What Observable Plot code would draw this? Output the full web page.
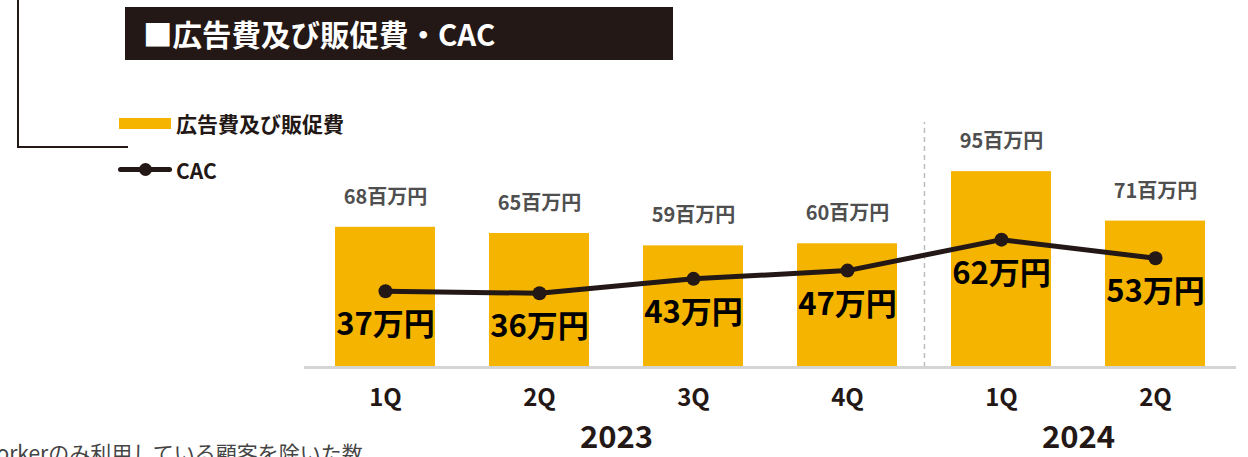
<!DOCTYPE html>
<html><head><meta charset="utf-8">
<script src="https://cdn.jsdelivr.net/npm/d3@7"></script>
<script src="https://cdn.jsdelivr.net/npm/@observablehq/plot@0.6"></script>
<style>
html,body{margin:0;padding:0;background:#fff;}
#wrap{position:relative;width:1248px;height:457px;overflow:hidden;font-family:"Noto Sans CJK JP","Noto Sans",sans-serif;}
#wrap svg{position:absolute;left:0;top:0;}
.ov{position:absolute;white-space:nowrap;}
</style></head>
<body><div id="wrap"></div>
<script>
const years = ["2023","2023","2023","2023","2024","2024"];
const quarters = ["1Q","2Q","3Q","4Q","1Q","2Q"];
const adCost = [68,65,59,60,95,71];      // 百万円
const cac = [37,36,43,47,62,53];         // 万円
const yearLabels = ["2023","2024"];
const yearAnchor = ["2023-2Q","2024-1Q"]; // label sits right of these bands

const keys = years.map((y,i)=>y+"-"+quarters[i]);
const data = keys.map((k,i)=>({key:k,q:quarters[i],ad:adCost[i],cac:cac[i]}));

const W=1248,H=457,mL=304,mR=12;
const pi=0.35,po=0.2;
const step=(W-mL-mR)/(keys.length-pi+2*po);
const font='"Noto Sans CJK JP","Noto Sans",sans-serif';
const dark="#231815", gold="#F5B400";

const chart = Plot.plot({
  width:W,height:H,marginLeft:mL,marginRight:mR,marginTop:0,marginBottom:90,
  style:{fontFamily:font,background:"transparent"},
  x:{type:"band",domain:keys,paddingInner:pi,paddingOuter:po,axis:null},
  y:{domain:[0,178],axis:null},
  marks:[
    Plot.ruleX(["2024-1Q"],{x:d=>d,y1:0,y2:119,dx:-step/2,stroke:"#bdbdbd",strokeWidth:1.5,strokeDasharray:"5,4"}),
    Plot.barY(data,{x:"key",y:"ad",fill:gold}),
    Plot.ruleY([0],{stroke:"#d4d4d4",strokeWidth:3}),
    Plot.text(data,{x:"key",y:"ad",text:d=>d.ad+"百万円",dy:-30,fontSize:20,fontWeight:"bold",fill:"#4f4f4f",fontFamily:font}),
    Plot.line(data,{x:"key",y:"cac",stroke:dark,strokeWidth:5}),
    Plot.dot(data,{x:"key",y:"cac",r:7,fill:dark}),
    Plot.text(data,{x:"key",y:"cac",text:d=>d.cac+"万円",dy:34,fontSize:31,fontWeight:"bold",fill:"#000",fontFamily:font}),
    Plot.text(data,{x:"key",text:"q",frameAnchor:"bottom",dy:38,fontSize:24,fontWeight:"bold",fill:dark,fontFamily:font}),
    Plot.text(yearLabels,{x:(d,i)=>yearAnchor[i],text:d=>d,frameAnchor:"bottom",dx:step/2,dy:80,fontSize:31,fontWeight:"bold",fill:dark,fontFamily:font})
  ]
});
const wrap=document.getElementById("wrap");
wrap.appendChild(chart);

function add(html,style){const d=document.createElement("div");d.className="ov";d.style.cssText=style;d.innerHTML=html;wrap.appendChild(d);return d;}
// bracket
add("","left:17px;top:0;width:2px;height:148px;background:"+dark);
add("","left:17px;top:146px;width:111px;height:2px;background:"+dark);
// title
add("■広告費及び販促費・CAC","left:125px;top:7px;width:548px;height:53px;background:"+dark+";color:#fff;font-weight:bold;font-size:29.5px;line-height:53px;padding-left:18px;box-sizing:border-box;");
// legend
add("","left:119px;top:118px;width:52px;height:11px;background:"+gold);
add("広告費及び販促費","left:176px;top:109px;font-size:21px;font-weight:bold;line-height:28px;color:"+dark);
add("","left:118px;top:167px;width:54px;height:5px;border-radius:3px;background:"+dark);
add("","left:139px;top:163px;width:13px;height:13px;border-radius:50%;background:"+dark);
add("CAC","left:176px;top:156px;font-size:21px;font-weight:bold;line-height:28px;color:"+dark);
// footnote (cut off at the left and bottom edges, as in the reference)
add("Workerのみ利用している顧客を除いた数","left:-22px;top:440px;font-size:21px;line-height:24px;color:#444;");
</script></body></html>
